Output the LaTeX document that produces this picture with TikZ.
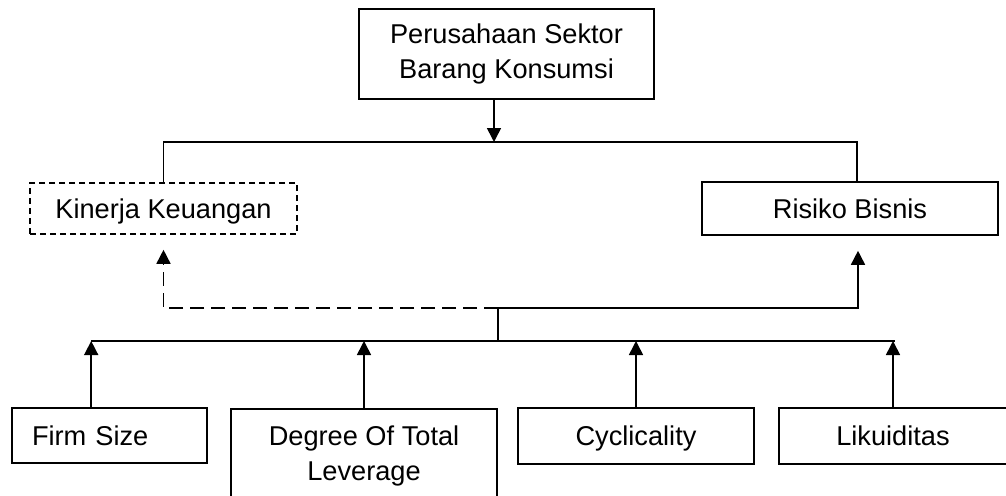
\documentclass[tikz,border=0pt]{standalone}
\usepackage{fontspec}
\setmainfont{Liberation Sans}
\usetikzlibrary{arrows.meta}

\begin{document}
\begin{tikzpicture}[x=1pt, y=-1pt, line width=1.6pt,
    box/.style={rectangle, draw, inner sep=0pt, align=center,
      font=\fontsize{27.2}{34.5}\selectfont},
    sbox/.style={box, text height=24pt, text depth=4.5pt},
    dbox/.style={sbox, dash pattern=on 6pt off 4pt},
    >={Triangle[length=14pt,width=14pt]}]
  \clip (0,0) rectangle (1006,495);
  % boxes
  \node[box, minimum width=295pt, minimum height=90pt] (PS) at (506.5,54) {Perusahaan Sektor\\Barang Konsumsi};
  \node[dbox, minimum width=267pt, minimum height=51pt] (KK) at (163.5,208.5) {Kinerja Keuangan};
  \node[sbox, minimum width=296pt, minimum height=53pt] (RB) at (850,208.5) {Risiko Bisnis};
  \node[sbox, text width=155pt, align=left, inner xsep=20pt, minimum height=55pt] (FS) at (109.5,435.5) {Firm Size};
  \node[box, minimum width=266pt, inner ysep=17pt, anchor=north] (DT) at (364,408) {Degree Of Total\\Leverage};
  \node[sbox, minimum width=236pt, minimum height=56pt] (CY) at (636,436) {Cyclicality};
  \node[sbox, minimum width=228pt, minimum height=56pt] (LK) at (893,436) {Likuiditas};
  % junctions
  \coordinate (T) at (494,142);
  \coordinate (TR) at (857,142);
  \coordinate (MU) at (498,308);
  \coordinate (M) at (498,341);
  \coordinate (F) at ([xshift=80pt]FS.north west);
  \coordinate (ME) at (895,341);
  % top part
  \draw[->] ([xshift=-12.5pt]PS.south) -- (T);
  \draw (KK.north) |- (TR) -- (TR |- RB.north);
  % middle part
  \draw[->, dash pattern=on 14pt off 7pt] (MU) -| ([yshift=-15pt]KK.south);
  \draw[->] (MU) -| ([xshift=8pt,yshift=-15pt]RB.south);
  \draw (M) -- (MU);
  % bottom part
  \draw (F |- M) -- (ME);
  \foreach \n in {F, DT.north, CY.north, LK.north}
    \draw[->] (\n) -- (\n |- M);
\end{tikzpicture}
\end{document}
